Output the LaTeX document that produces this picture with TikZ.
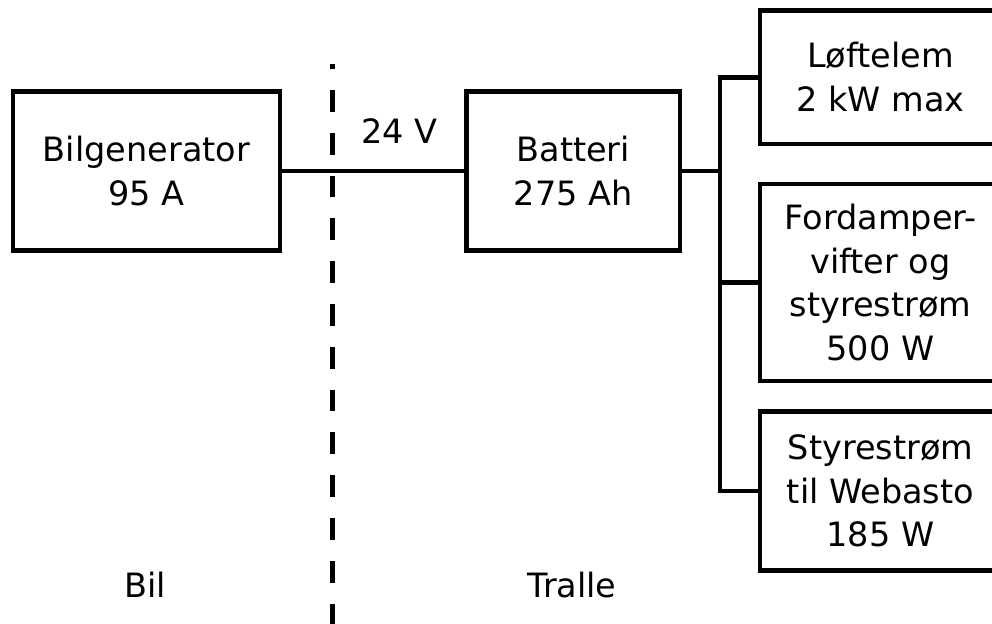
\documentclass[tikz,border=0pt]{standalone}
\usepackage{fontspec}
\setmainfont{DejaVu Sans}
\begin{document}
\begin{tikzpicture}[x=0.5pt,y=-0.5pt,
  box/.style={draw=black,line width=2.25pt,rectangle,inner sep=0pt,outer sep=0pt,
    align=center,font=\fontsize{16.75pt}{21.75pt}\selectfont},
  lbl/.style={inner sep=0pt,anchor=base,font=\fontsize{16.75pt}{21.75pt}\selectfont},
  wire/.style={line width=2.25pt,line join=miter}]
\useasboundingbox (0,0) rectangle (992,623);
\node[box,minimum width=133.5pt,minimum height=79.5pt] (gen) at (146.5,171) {Bilgenerator\\95 A};
\node[box,minimum width=106.75pt,minimum height=79.5pt] (bat) at (573.25,171) {Batteri\\275 Ah};
\node[box,minimum width=120.5pt,minimum height=66.75pt] (lof) at (880.5,77.25) {Løftelem\\2 kW max};
\node[box,minimum width=120.5pt,minimum height=98.5pt] (ford) at (880.5,282.5) {Fordamper-\\vifter og\\styrestrøm\\500 W};
\node[box,minimum width=120.5pt,minimum height=79.5pt] (sty) at (880.5,491) {Styrestrøm\\til Webasto\\185 W};
\coordinate (busx) at (720,0);
\coordinate (dtop) at (332.5,64);
\coordinate (dbot) at (332.5,630);
\node[lbl] (v24) at (399.5,143) {24 V};
\node[lbl] (bil) at (145.5,597) {Bil};
\node[lbl] (tralle) at (572,597) {Tralle};
\draw[wire] (gen.east) -- (bat.west);
\draw[wire] (bat.east) -- (bat.east -| busx);
\draw[wire] (lof.west) -- (lof.west -| busx) -- (sty.west -| busx) -- (sty.west);
\draw[wire] (ford.west) -- (ford.west -| busx);
\draw[line width=2.25pt,dash pattern=on 10.9pt off 10.5pt,dash phase=8.4pt] (dtop) -- (dbot);
\end{tikzpicture}
\end{document}
